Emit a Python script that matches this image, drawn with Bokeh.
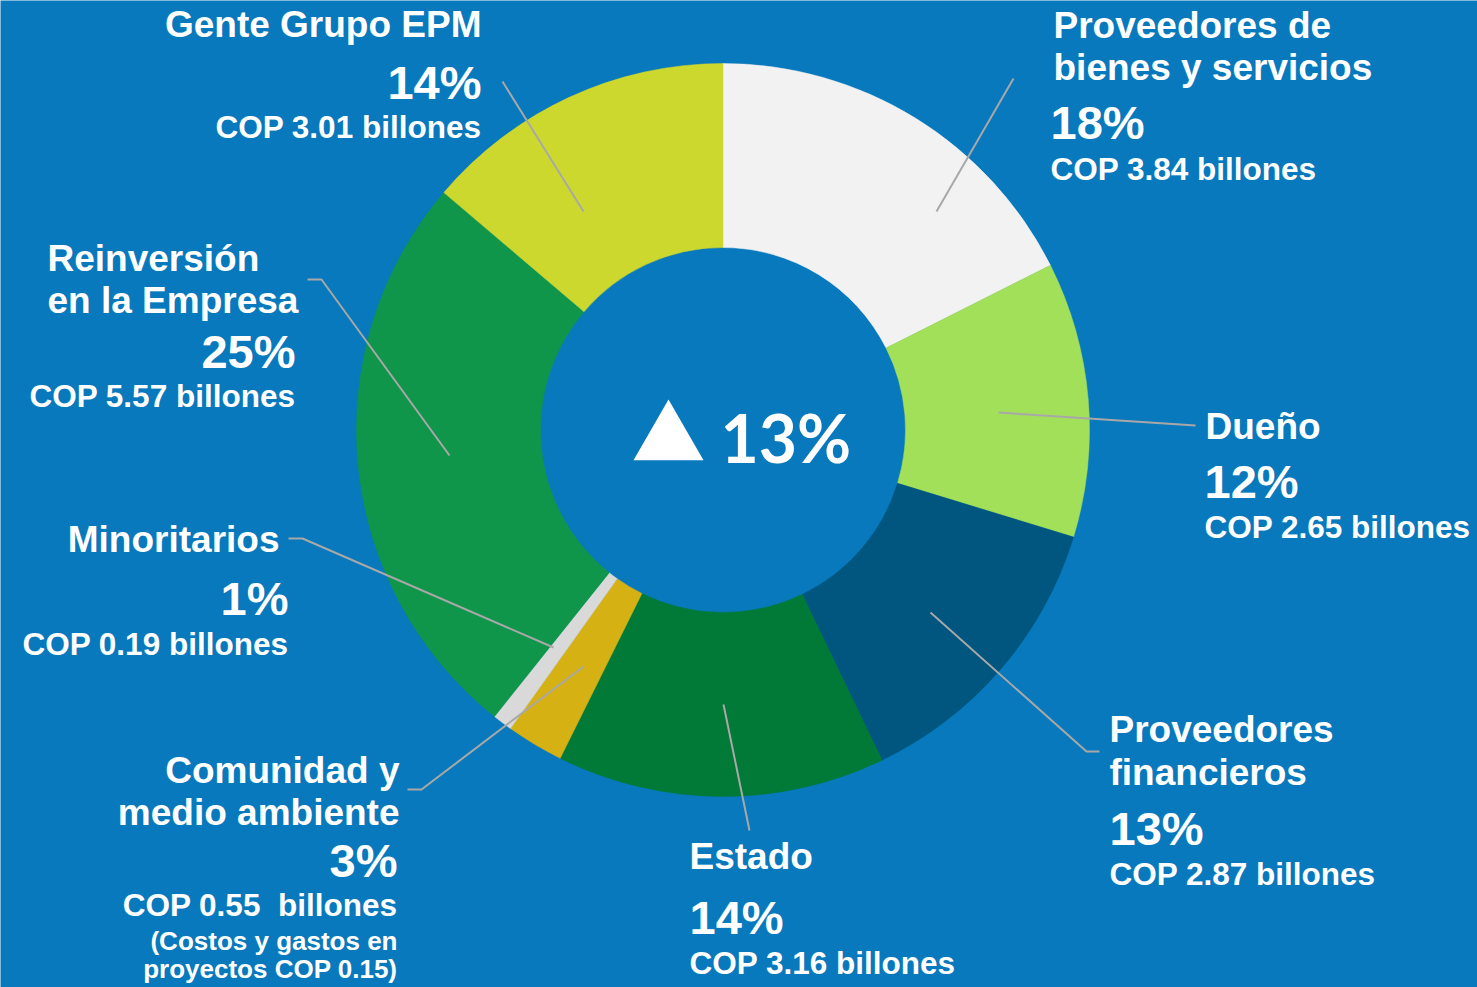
import math
from bokeh.plotting import figure
from bokeh.models import Range1d, ColumnDataSource
from bokeh.core.properties import value
from bokeh.embed import file_html
from bokeh.resources import INLINE

# ---------------- data ----------------
categories = [
    "Proveedores de bienes y servicios",
    "Dueño",
    "Proveedores financieros",
    "Estado",
    "Comunidad y medio ambiente",
    "Minoritarios",
    "Reinversión en la Empresa",
    "Gente Grupo EPM",
]
values_cop = [3.84, 2.65, 2.87, 3.16, 0.55, 0.19, 5.57, 3.01]   # billones COP
pct_labels = ["18%", "12%", "13%", "14%", "3%", "1%", "25%", "14%"]
cop_labels = [
    "COP 3.84 billones", "COP 2.65 billones", "COP 2.87 billones",
    "COP 3.16 billones", "COP 0.55  billones", "COP 0.19 billones",
    "COP 5.57 billones", "COP 3.01 billones",
]
title_lines = [
    ["Proveedores de", "bienes y servicios"],
    ["Dueño"],
    ["Proveedores", "financieros"],
    ["Estado"],
    ["Comunidad y", "medio ambiente"],
    ["Minoritarios"],
    ["Reinversión", "en la Empresa"],
    ["Gente Grupo EPM"],
]
note_lines = ["(Costos y gastos en", "proyectos COP 0.15)"]
center_change = "13%"

# ---------------- style ----------------
BG = "#0879BC"
slice_colors = ["#F2F2F2", "#A2E05A", "#00567F", "#007A36",
                "#D6B114", "#D9D9D9", "#10964A", "#CDD82F"]
LEADER = "#A8A8A8"
FONT = value("Liberation Sans")

W, H = 1477, 987

p = figure(width=W, height=H,
           x_range=Range1d(0, W), y_range=Range1d(-H, 0),
           output_backend="svg", toolbar_location=None,
           x_axis_location=None, y_axis_location=None,
           min_border=0, min_border_left=0, min_border_right=0,
           min_border_top=0, min_border_bottom=0)
p.xgrid.visible = False
p.ygrid.visible = False
p.outline_line_color = None
p.background_fill_color = BG
p.border_fill_color = BG

# ---------------- donut ----------------
CX, CY = 722.5, -429.5
R_OUT, R_IN = 366.5, 182.5
total = sum(values_cop)
starts, ends = [], []
acc = 0.0
for v in values_cop:
    starts.append(math.pi / 2 - 2 * math.pi * acc / total)
    acc += v
    ends.append(math.pi / 2 - 2 * math.pi * acc / total)

src = ColumnDataSource(dict(cat=categories, val=values_cop, start=starts,
                            end=ends, color=slice_colors))
p.annular_wedge(x=CX, y=CY, inner_radius=R_IN, outer_radius=R_OUT,
                start_angle="start", end_angle="end", direction="clock",
                fill_color="color", line_color="color", line_width=0.5,
                source=src)

# ---------------- leader lines (page pixel coords) ----------------
leaders = [
    [(936, 211), (1013, 78)],
    [(998, 412), (1195, 425)],
    [(930, 612), (1086, 751), (1099, 751)],
    [(723, 704), (749, 830)],
    [(583, 666), (421, 789), (407, 789)],
    [(553, 647), (302, 538), (288, 538)],
    [(449, 455), (321, 279), (307, 279)],
    [(583, 211), (502, 81)],
]
p.multi_line(xs=[[pt[0] for pt in l] for l in leaders],
             ys=[[-pt[1] for pt in l] for l in leaders],
             line_color=LEADER, line_width=2)

# ---------------- labels ----------------
# per slice: (title x, title align, title baselines, num x, num align, pct baseline, cop baseline)
layout = [
    (1053, "left", [38, 80], 1050, "left", 138, 180),
    (1205, "left", [439], 1204, "left", 497, 538),
    (1109, "left", [742, 785], 1109, "left", 844, 885),
    (689, "left", [869], 689, "left", 933, 974),
    (399, "right", [783, 825], 397, "right", 876, 916),
    (279, "right", [552], 288, "right", 614, 655),
    (47, "left", [271, 313], 295, "right", 367, 407),
    (481, "right", [37], 481, "right", 98, 138),
]

# the rendered text is vertically centred on y; shift so that the baseline lands on b
MID = 0.35


def txt(x, b, s, size, align, font=FONT):
    p.text(x=[x], y=[-(b - MID * size)], text=[s.replace("  ", " \u00a0")],
           text_font=font, text_font_style="bold",
           text_font_size=f"{size}px", text_color="white", text_align=align,
           text_baseline="alphabetic")


for i, (tx, ta, tys, nx, na, py, cy) in enumerate(layout):
    for line, ty in zip(title_lines[i], tys):
        txt(tx, ty, line, 37, ta)
    txt(nx, py, pct_labels[i], 47, na)
    txt(nx, cy, cop_labels[i], 31.5, na)

for line, ty in zip(note_lines, [950, 978]):
    txt(397, ty, line, 26, "right")

# ---------------- centre ----------------
p.scatter(x=[668], y=[-439.5], marker="triangle", size=70,
          fill_color="white", line_color=None)
p.text(x=[720], y=[-(461 - 24)], text=[center_change], text_font=value("Lato"),
       text_font_style="bold", text_font_size="66px", text_color="white",
       text_align="left", text_baseline="alphabetic")

open("out.html", "w").write(file_html(p, INLINE))
